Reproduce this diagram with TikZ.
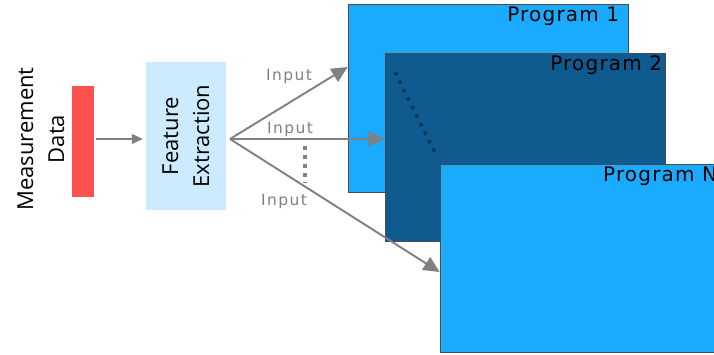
\documentclass[tikz,border=0pt]{standalone}
\usepackage{fontspec}
\setmainfont{DejaVu Sans}
\newfontfamily\sidefont{Open Sans}
\newfontfamily\progfont[LetterSpace=6]{DejaVu Sans}
\newfontfamily\inputfont[LetterSpace=9]{DejaVu Sans}
\usetikzlibrary{arrows.meta}

\definecolor{barred}{HTML}{FF5050}
\definecolor{featblue}{HTML}{CCEBFF}
\definecolor{proglight}{HTML}{1AABFF}
\definecolor{progdark}{HTML}{0F5A8F}
\definecolor{dotblue}{HTML}{0A3858}

\begin{document}
\begin{tikzpicture}[x=1pt,y=1pt,
  prog/.style={draw=black!70, line width=0.8pt, minimum width=280pt, minimum height=188pt, inner sep=0pt},
  proglabel/.style={anchor=north east, inner sep=3pt, font=\progfont\fontsize{20}{22}\selectfont},
  sidelabel/.style={rotate=90, align=center, font=\sidefont\fontsize{22}{31}\selectfont},
  feed/.style={draw=gray, line width=1.9pt, -{Triangle[length=16pt,width=15pt]}},
  inlabel/.style={text=gray, font=\inputfont\fontsize{15.5}{17}\selectfont}]

\useasboundingbox (0,0) rectangle (714,355);
\clip (0,0) rectangle (714,355);

% input side
\node[sidelabel] (meas) at (41,216) {Measurement\\Data};
\node[fill=barred, minimum width=22pt, minimum height=111pt, inner sep=0pt] (bar) at (83,213.5) {};
\node[fill=featblue, minimum width=80pt, minimum height=148pt, inner sep=0pt] (feat) at (186,219) {};
\node[sidelabel] at (feat) {Feature\\Extraction};
\draw[draw=gray, line width=1.4pt, -{Triangle[length=11pt,width=10pt]}] ([xshift=2pt]bar.east |- 0,216) -- ([xshift=-3pt]feat.west |- 0,216);

% program windows
\node[prog, fill=proglight] (p1) at (488,256.5) {};
\node[proglabel, xshift=-6pt] at (p1.north east) {Program 1};
\node[prog, fill=progdark] (p2) at (525,208) {};
\node[proglabel] at (p2.north east) {Program 2};
\node[prog, fill=proglight] (pn) at (580,97) {};
\node[proglabel] at (pn.north east) {Program N};
\draw[dotblue, line width=3.5pt, dash pattern=on 3.5pt off 6pt] (395,283) -- (437,198);

% feature vectors
\coordinate (fan) at (230,216);
\coordinate (in1) at (p1.west |- 0,288);
\coordinate (in2) at (p2.west |- 0,216);
\coordinate (inn) at (pn.west |- 0,83);
\draw[feed] (fan) -- (in1);
\draw[feed] (fan) -- (in2);
\draw[feed] (fan) -- (inn);
\node[inlabel] (l1) at (289,279) {Input};
\node[inlabel] (l2) at (290,226) {Input};
\node[inlabel] (ln) at (284,154) {Input};
\draw[gray, line width=4pt, dash pattern=on 4pt off 5pt] (305,209) -- (305,172);

\end{tikzpicture}
\end{document}
